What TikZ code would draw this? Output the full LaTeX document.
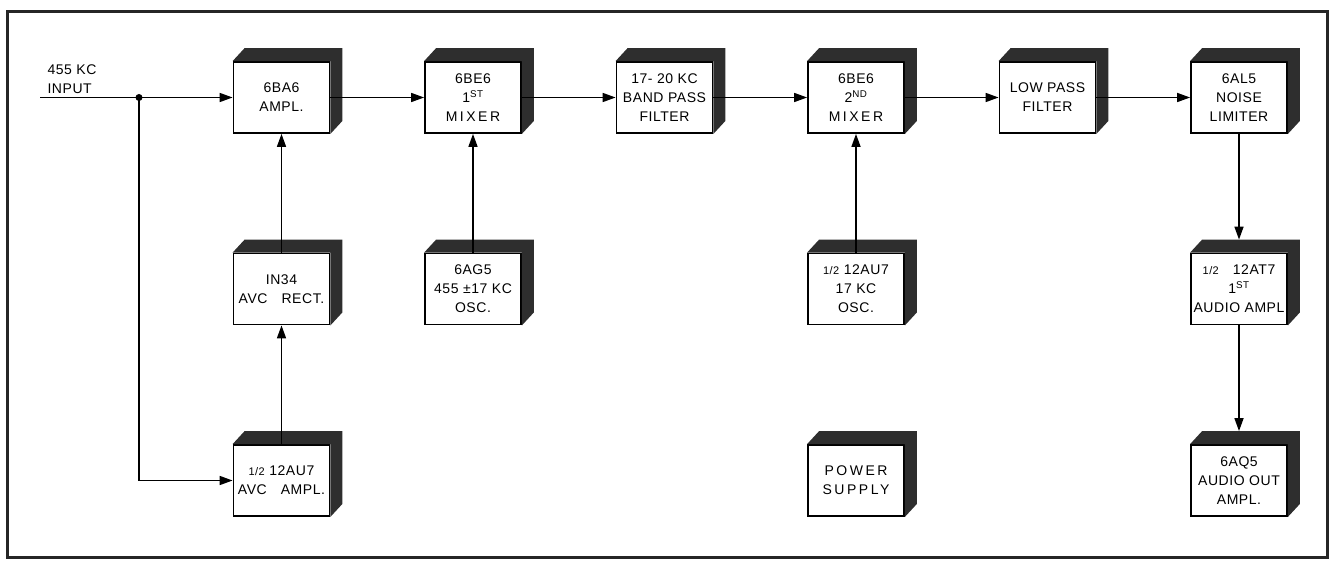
\documentclass[tikz,border=0pt]{standalone}
\usepackage{fontspec}
\setmainfont{Liberation Sans}[LetterSpace=4]
\usetikzlibrary{arrows.meta, positioning}
\newcommand{\wide}[1]{{\addfontfeature{LetterSpace=18}#1}}
\newcommand{\half}{{\fontsize{11}{19}\selectfont 1/2}}

\begin{document}
\begin{tikzpicture}[
            x=1pt, y=-1pt,
            node distance=191.5pt,
            font=\fontsize{14}{19}\selectfont,
            block/.style={rectangle, draw, line width=1.8pt, fill=white,
                minimum width=96pt, minimum height=71pt,
                inner sep=2pt, align=center
            },
            boxshadow/.style={fill=black!82},
            line/.style={draw, line width=1.6pt, -{Triangle[length=13pt, width=9pt]}}
        ]
            \useasboundingbox (0,0) rectangle (1330,561);
            \draw [line width=3pt, black!85] (7,12) rectangle (1327,557);

            % top row
            \node [block] (amp) at (281.5,97.5) {6BA6\\AMPL.};
            \node [block, right of=amp] (mixa) {6BE6\\1\textsuperscript{ST}\\\wide{MIXER}};
            \node [block, right of=mixa] (bpf) {17- 20 KC\\BAND PASS\\FILTER};
            \node [block, right of=bpf] (mixb) {6BE6\\2\textsuperscript{ND}\\\wide{MIXER}};
            \node [block, right of=mixb] (lpf) {LOW PASS\\FILTER};
            \node [block, right of=lpf] (lim) {6AL5\\NOISE\\LIMITER};

            % lower rows
            \node [block, below of=amp] (rect) {IN34\\AVC\quad RECT.};
            \node [block, below of=rect] (avc) {\half\ 12AU7\\AVC\quad AMPL.};
            \node [block, below of=mixa] (osca) {6AG5\\455 ±17 KC\\OSC.};
            \node [block, below of=mixb] (oscb) {\half\ 12AU7\\17 KC\\OSC.};
            \node [block, below of=oscb] (power) {\wide{POWER}\\\wide{SUPPLY}};
            \node [block, below of=lim] (aud) {\half\quad 12AT7\\1\textsuperscript{ST}\\AUDIO\ AMPL};
            \node [block, below of=aud] (out) {6AQ5\\AUDIO OUT\\AMPL.};

            \node [align=left, anchor=west] (inlab) at (44,79) {455 KC\\INPUT};

            % shadows on top and right
            \foreach \n in {amp,mixa,bpf,mixb,lpf,lim,rect,osca,avc,oscb,power,aud,out}
                \fill [boxshadow] (\n.north west) -- ++(12,-13)
                    -- ([shift={(12,-13)}]\n.north east)
                    -- ([shift={(12,-13)}]\n.south east)
                    -- (\n.south east) -- (\n.north east) -- cycle;

            % connectors
            \coordinate (in) at (40,97.5);
            \coordinate (jn) at (139,97.5);
            \fill (jn) circle (3.5pt);
            \path [line] (in) -- (amp);
            \path [line] (jn) |- (avc.west);
            \path [line] (avc) -- (rect);
            \path [line] (rect) -- (amp);
            \path [line] (amp) -- (mixa);
            \path [line] (mixa) -- (bpf);
            \path [line] (bpf) -- (mixb);
            \path [line] (mixb) -- (lpf);
            \path [line] (lpf) -- (lim);
            \path [line] (osca) -- (mixa);
            \path [line] (oscb) -- (mixb);
            \path [line] (lim) -- ([yshift=13pt]aud.north);
            \path [line] (aud) -- ([yshift=13pt]out.north);
        \end{tikzpicture}
\end{document}
